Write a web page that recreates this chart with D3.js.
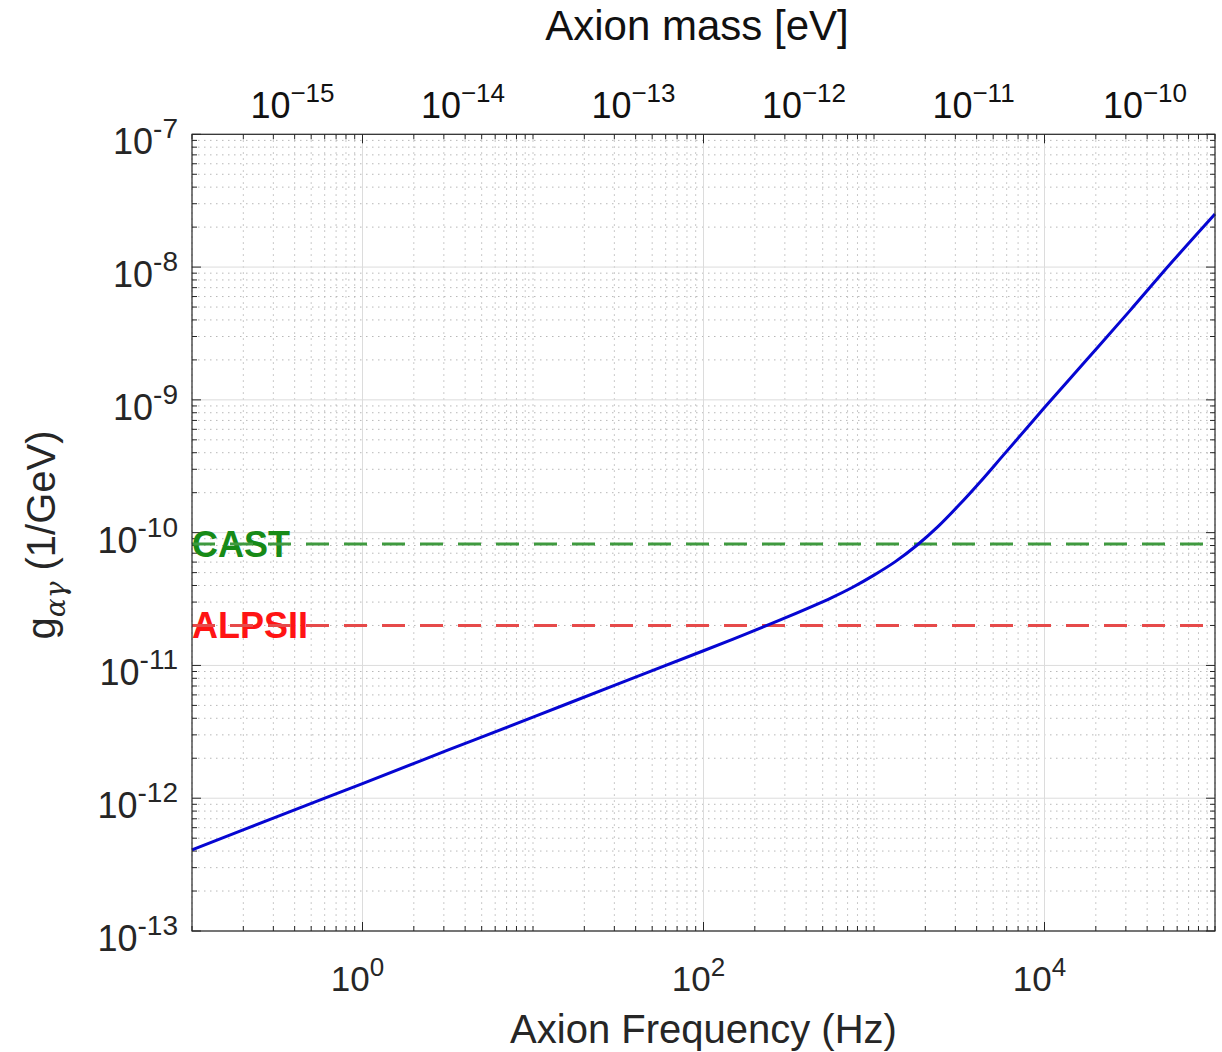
<!DOCTYPE html>
<html>
<head>
<meta charset="utf-8">
<script src="https://cdn.jsdelivr.net/npm/d3@7"></script>
<style>
  html, body { margin: 0; padding: 0; background: #fff; }
  svg { display: block; }
  text { font-family: "Liberation Sans", Arial, Helvetica, sans-serif; }
</style>
</head>
<body>
<svg id="chart" width="1222" height="1052"></svg>
<script>
// ---------------- data ----------------
const freqHz = [0.1, 0.316, 1, 3.16, 10, 31.6, 100, 178, 316, 562, 750, 1000, 1334, 1778, 2371, 3162, 4217, 5623, 10000, 17783, 31623, 56234, 100000];
const gCoupling = [4.08e-13, 7.26e-13, 1.29e-12, 2.30e-12, 4.08e-12, 7.26e-12, 1.29e-11, 1.73e-11, 2.34e-11, 3.23e-11, 3.88e-11, 4.79e-11, 6.05e-11, 8.0e-11, 1.11e-10, 1.62e-10, 2.43e-10, 3.72e-10, 8.75e-10, 2.02e-9, 4.68e-9, 1.10e-8, 2.51e-8];

const limitNames = ["CAST", "ALPSII"];
const limitValues = [8.2e-11, 2.0e-11];
const limitLineColors = ["#3f9a3f", "#e64a4a"];
const limitTextColors = ["#178a17", "#ff1414"];

const xMajorTicks = [1, 100, 10000];
const xMajorExps = ["0", "2", "4"];
const yMajorTicks = [1e-13, 1e-12, 1e-11, 1e-10, 1e-9, 1e-8, 1e-7];
const yMajorExps = ["-13", "-12", "-11", "-10", "-9", "-8", "-7"];
const massTicks = [1e-15, 1e-14, 1e-13, 1e-12, 1e-11, 1e-10];
const massExps = ["\u221215", "\u221214", "\u221213", "\u221212", "\u221211", "\u221210"];
const planckEvS = 4.1357e-15;

const xTitle = "Axion Frequency (Hz)";
const topTitle = "Axion mass [eV]";

// ---------------- layout ----------------
const L = 192, R = 1215, T = 134.3, B = 931;
const svg = d3.select("#chart");

const x = d3.scaleLog().domain([0.1, 1e5]).range([L, R]);
const y = d3.scaleLog().domain([1e-13, 1e-7]).range([B, T]);

// minor tick values
const xMinor = [];
for (let k = -1; k <= 4; k++) for (let n = 1; n <= 9; n++) {
  const v = n * Math.pow(10, k);
  if (v >= 0.1 * 0.999 && v <= 1e5 * 1.001) xMinor.push(v);
}
xMinor.push(1e5);
const yMinor = [];
for (let k = -13; k <= -8; k++) for (let n = 2; n <= 9; n++) yMinor.push(n * Math.pow(10, k));

const isXMajor = v => xMajorTicks.some(m => Math.abs(Math.log10(m) - Math.log10(v)) < 1e-6);

const grid = svg.append("g");
// minor grid (dotted)
grid.selectAll(".gxm").data(xMinor.filter(v => !isXMajor(v))).join("line")
  .attr("x1", d => x(d)).attr("x2", d => x(d)).attr("y1", T).attr("y2", B)
  .attr("stroke", "#b8b8b8").attr("stroke-width", 1).attr("stroke-dasharray", "1.5,4.5");
grid.selectAll(".gym").data(yMinor).join("line")
  .attr("y1", d => y(d)).attr("y2", d => y(d)).attr("x1", L).attr("x2", R)
  .attr("stroke", "#b8b8b8").attr("stroke-width", 1).attr("stroke-dasharray", "1.5,4.5");
// major grid (solid light)
grid.selectAll(".gx").data(xMajorTicks).join("line")
  .attr("x1", d => x(d)).attr("x2", d => x(d)).attr("y1", T).attr("y2", B)
  .attr("stroke", "#dcdcdc").attr("stroke-width", 1);
grid.selectAll(".gy").data(yMajorTicks).join("line")
  .attr("y1", d => y(d)).attr("y2", d => y(d)).attr("x1", L).attr("x2", R)
  .attr("stroke", "#dcdcdc").attr("stroke-width", 1);

// ---------------- ticks (inward, all four sides) ----------------
const tk = svg.append("g").attr("stroke", "#262626").attr("stroke-width", 1);
const majLen = 9, minLen = 5;
const xAll = xMinor.map(v => ({v, len: isXMajor(v) ? majLen : minLen}));
tk.selectAll(".tb").data(xAll).join("line")
  .attr("x1", d => x(d.v)).attr("x2", d => x(d.v)).attr("y1", B).attr("y2", d => B - d.len);
tk.selectAll(".tt").data(xAll).join("line")
  .attr("x1", d => x(d.v)).attr("x2", d => x(d.v)).attr("y1", T).attr("y2", d => T + d.len);
const yAll = yMajorTicks.map(v => ({v, len: majLen})).concat(yMinor.map(v => ({v, len: minLen})));
tk.selectAll(".tl").data(yAll).join("line")
  .attr("y1", d => y(d.v)).attr("y2", d => y(d.v)).attr("x1", L).attr("x2", d => L + d.len);
tk.selectAll(".tr").data(yAll).join("line")
  .attr("y1", d => y(d.v)).attr("y2", d => y(d.v)).attr("x1", R).attr("x2", d => R - d.len);

// ---------------- data lines ----------------
const plot = svg.append("g");
limitValues.forEach((v, i) => {
  plot.append("text")
    .attr("x", L).attr("y", y(v) + 13)
    .attr("font-size", 36).attr("font-weight", "bold")
    .attr("fill", limitTextColors[i])
    .text(limitNames[i]);
  plot.append("line")
    .attr("x1", L).attr("x2", R).attr("y1", y(v)).attr("y2", y(v))
    .attr("stroke", limitLineColors[i]).attr("stroke-width", 3)
    .attr("stroke-dasharray", "23,15");
});

const line = d3.line().x((d, i) => x(freqHz[i])).y(d => y(d)).curve(d3.curveCatmullRom.alpha(0.5));
plot.append("path").datum(gCoupling)
  .attr("d", line)
  .attr("fill", "none").attr("stroke", "#0606d2").attr("stroke-width", 3);

// box
svg.append("rect").attr("x", L).attr("y", T).attr("width", R - L).attr("height", B - T)
  .attr("fill", "none").attr("stroke", "#262626").attr("stroke-width", 1.2);

// ---------------- tick labels ----------------
function powLabel(sel, exp, base, sup, dy) {
  sel.append("tspan").attr("font-size", base).text("10");
  sel.append("tspan").attr("font-size", sup).attr("dy", dy).text(exp);
}
xMajorTicks.forEach((v, i) => {
  const t = svg.append("text").attr("x", x(v) - 5).attr("y", B + 60)
    .attr("text-anchor", "middle").attr("fill", "#262626");
  powLabel(t, xMajorExps[i], 35, 26, -15);
});
yMajorTicks.forEach((v, i) => {
  const t = svg.append("text").attr("x", L - 14).attr("y", y(v) + 20)
    .attr("text-anchor", "end").attr("fill", "#262626");
  powLabel(t, yMajorExps[i], 36, 28, -16);
});
massTicks.forEach((m, i) => {
  const t = svg.append("text").attr("x", x(m / planckEvS) - 7).attr("y", 118)
    .attr("text-anchor", "start").attr("fill", "#111");
  powLabel(t, massExps[i], 36, 26, -16);
});

// ---------------- titles ----------------
svg.append("text").attr("x", (L + R) / 2).attr("y", 1043).attr("text-anchor", "middle")
  .attr("font-size", 40).attr("fill", "#262626").text(xTitle);
svg.append("text").attr("x", 697).attr("y", 40).attr("text-anchor", "middle")
  .attr("font-size", 42).attr("fill", "#111").text(topTitle);

const yt = svg.append("text").attr("transform", "translate(55,535) rotate(-90)")
  .attr("text-anchor", "middle").attr("fill", "#262626").attr("font-size", 40);
yt.append("tspan").text("g");
yt.append("tspan").attr("font-size", 28).attr("font-style", "italic")
  .attr("font-family", "'DejaVu Serif', 'Liberation Serif', serif").attr("dy", 10).text("\u03b1\u03b3");
yt.append("tspan").attr("dy", -10).text(" (1/GeV)");
</script>
</body>
</html>
